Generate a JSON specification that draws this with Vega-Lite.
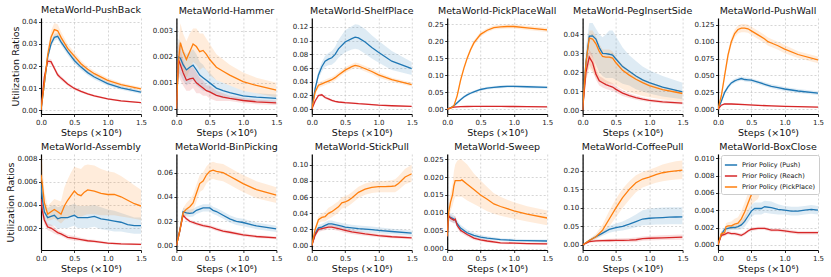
{
"$schema":"https://vega.github.io/schema/vega-lite/v6.json",
"padding":{"left":5,"top":5,"right":5,"bottom":5},
"background":"white",
"columns":6,
"spacing":{"row":40,"column":35.4},
"bounds":"flush",
"resolve":{"scale":{"color":"independent","fill":"independent","y":"independent"}},
"config":{
 "view":{"stroke":null},
 "font":"DejaVu Sans",
 "axis":{"labelFont":"DejaVu Sans","labelFontSize":7,"labelColor":"#222","titleFont":"DejaVu Sans","titleFontSize":9.5,"titleFontWeight":"normal","titleColor":"#111","domainColor":"#000","domainWidth":1.2,"ticks":true,"tickSize":2.5,"tickColor":"#000","tickWidth":0.8,"labelPadding":1.5,"gridColor":"#bbbbbb","gridDash":[2,2],"gridWidth":0.6,"titlePadding":2},
 "axisY":{"titlePadding":1},
 "axisX":{"labelFlush":false},
 "title":{"font":"DejaVu Sans","fontSize":9.5,"fontWeight":"normal","offset":3,"color":"#111"}
},
"data":{"values":[
{"p":"PB","s":"Push","x":0,"y":0,"l":0,"h":0},
{"p":"PB","s":"Push","x":0.05,"y":0.012,"l":0.0105,"h":0.0135},
{"p":"PB","s":"Push","x":0.1,"y":0.024,"l":0.0225,"h":0.0255},
{"p":"PB","s":"Push","x":0.15,"y":0.03,"l":0.0285,"h":0.0315},
{"p":"PB","s":"Push","x":0.2,"y":0.033,"l":0.0315,"h":0.0345},
{"p":"PB","s":"Push","x":0.25,"y":0.0335,"l":0.032,"h":0.035},
{"p":"PB","s":"Push","x":0.3,"y":0.031,"l":0.0295,"h":0.0325},
{"p":"PB","s":"Push","x":0.4,"y":0.0265,"l":0.025,"h":0.028},
{"p":"PB","s":"Push","x":0.5,"y":0.0225,"l":0.021,"h":0.024},
{"p":"PB","s":"Push","x":0.6,"y":0.0195,"l":0.0182,"h":0.0208},
{"p":"PB","s":"Push","x":0.7,"y":0.017,"l":0.0158,"h":0.0182},
{"p":"PB","s":"Push","x":0.8,"y":0.015,"l":0.0139,"h":0.0161},
{"p":"PB","s":"Push","x":1.0,"y":0.012,"l":0.011,"h":0.013},
{"p":"PB","s":"Push","x":1.2,"y":0.0101,"l":0.0092,"h":0.011},
{"p":"PB","s":"Push","x":1.5,"y":0.0081,"l":0.0073,"h":0.0089},
{"p":"PB","s":"Reach","x":0,"y":0,"l":0,"h":0},
{"p":"PB","s":"Reach","x":0.05,"y":0.015,"l":0.014,"h":0.016},
{"p":"PB","s":"Reach","x":0.1,"y":0.0222,"l":0.021,"h":0.0234},
{"p":"PB","s":"Reach","x":0.15,"y":0.022,"l":0.0208,"h":0.0232},
{"p":"PB","s":"Reach","x":0.2,"y":0.019,"l":0.018,"h":0.02},
{"p":"PB","s":"Reach","x":0.25,"y":0.016,"l":0.015,"h":0.017},
{"p":"PB","s":"Reach","x":0.3,"y":0.0145,"l":0.0135,"h":0.0155},
{"p":"PB","s":"Reach","x":0.4,"y":0.0118,"l":0.011,"h":0.0126},
{"p":"PB","s":"Reach","x":0.5,"y":0.0098,"l":0.0091,"h":0.0105},
{"p":"PB","s":"Reach","x":0.6,"y":0.0085,"l":0.0079,"h":0.0091},
{"p":"PB","s":"Reach","x":0.7,"y":0.0073,"l":0.0068,"h":0.0078},
{"p":"PB","s":"Reach","x":0.8,"y":0.0064,"l":0.0059,"h":0.0069},
{"p":"PB","s":"Reach","x":1.0,"y":0.0051,"l":0.0047,"h":0.0055},
{"p":"PB","s":"Reach","x":1.2,"y":0.0042,"l":0.0038,"h":0.0046},
{"p":"PB","s":"Reach","x":1.5,"y":0.0034,"l":0.0031,"h":0.0037},
{"p":"PB","s":"PickPlace","x":0,"y":0,"l":0,"h":0},
{"p":"PB","s":"PickPlace","x":0.05,"y":0.012,"l":0.01,"h":0.014},
{"p":"PB","s":"PickPlace","x":0.1,"y":0.025,"l":0.022,"h":0.028},
{"p":"PB","s":"PickPlace","x":0.15,"y":0.033,"l":0.03,"h":0.036},
{"p":"PB","s":"PickPlace","x":0.2,"y":0.0365,"l":0.0335,"h":0.0395},
{"p":"PB","s":"PickPlace","x":0.25,"y":0.036,"l":0.033,"h":0.039},
{"p":"PB","s":"PickPlace","x":0.3,"y":0.033,"l":0.0305,"h":0.0355},
{"p":"PB","s":"PickPlace","x":0.4,"y":0.028,"l":0.026,"h":0.03},
{"p":"PB","s":"PickPlace","x":0.5,"y":0.0245,"l":0.0228,"h":0.0262},
{"p":"PB","s":"PickPlace","x":0.6,"y":0.021,"l":0.0195,"h":0.0225},
{"p":"PB","s":"PickPlace","x":0.7,"y":0.0185,"l":0.0172,"h":0.0198},
{"p":"PB","s":"PickPlace","x":0.8,"y":0.0165,"l":0.0153,"h":0.0177},
{"p":"PB","s":"PickPlace","x":1.0,"y":0.0135,"l":0.0125,"h":0.0145},
{"p":"PB","s":"PickPlace","x":1.2,"y":0.0115,"l":0.0106,"h":0.0124},
{"p":"PB","s":"PickPlace","x":1.5,"y":0.0096,"l":0.0088,"h":0.0104},

{"p":"HM","s":"Push","x":0,"y":0,"l":0,"h":0},
{"p":"HM","s":"Push","x":0.03,"y":0.002,"l":0.0014,"h":0.0027},
{"p":"HM","s":"Push","x":0.06,"y":0.00195,"l":0.0013,"h":0.0026},
{"p":"HM","s":"Push","x":0.1,"y":0.0017,"l":0.0011,"h":0.0023},
{"p":"HM","s":"Push","x":0.15,"y":0.0015,"l":0.0009,"h":0.0021},
{"p":"HM","s":"Push","x":0.2,"y":0.0016,"l":0.001,"h":0.0022},
{"p":"HM","s":"Push","x":0.25,"y":0.00168,"l":0.0011,"h":0.0023},
{"p":"HM","s":"Push","x":0.3,"y":0.0015,"l":0.0009,"h":0.0021},
{"p":"HM","s":"Push","x":0.35,"y":0.0013,"l":0.0008,"h":0.0018},
{"p":"HM","s":"Push","x":0.4,"y":0.0012,"l":0.0007,"h":0.0017},
{"p":"HM","s":"Push","x":0.45,"y":0.0011,"l":0.0007,"h":0.0015},
{"p":"HM","s":"Push","x":0.5,"y":0.001,"l":0.0006,"h":0.0014},
{"p":"HM","s":"Push","x":0.6,"y":0.0008,"l":0.0005,"h":0.0011},
{"p":"HM","s":"Push","x":0.7,"y":0.0007,"l":0.0004,"h":0.001},
{"p":"HM","s":"Push","x":0.8,"y":0.00062,"l":0.0004,"h":0.0009},
{"p":"HM","s":"Push","x":1.0,"y":0.0005,"l":0.0003,"h":0.0007},
{"p":"HM","s":"Push","x":1.2,"y":0.00045,"l":0.0003,"h":0.0006},
{"p":"HM","s":"Push","x":1.5,"y":0.0004,"l":0.00025,"h":0.00055},
{"p":"HM","s":"Reach","x":0,"y":0,"l":0,"h":0},
{"p":"HM","s":"Reach","x":0.03,"y":0.0019,"l":0.0013,"h":0.0025},
{"p":"HM","s":"Reach","x":0.06,"y":0.0017,"l":0.0011,"h":0.0023},
{"p":"HM","s":"Reach","x":0.1,"y":0.0014,"l":0.0009,"h":0.0019},
{"p":"HM","s":"Reach","x":0.15,"y":0.0011,"l":0.0007,"h":0.0015},
{"p":"HM","s":"Reach","x":0.2,"y":0.00115,"l":0.0007,"h":0.0016},
{"p":"HM","s":"Reach","x":0.25,"y":0.00118,"l":0.0008,"h":0.0016},
{"p":"HM","s":"Reach","x":0.3,"y":0.001,"l":0.0006,"h":0.0014},
{"p":"HM","s":"Reach","x":0.35,"y":0.0009,"l":0.0006,"h":0.0012},
{"p":"HM","s":"Reach","x":0.4,"y":0.0008,"l":0.0005,"h":0.0011},
{"p":"HM","s":"Reach","x":0.45,"y":0.0007,"l":0.0005,"h":0.0009},
{"p":"HM","s":"Reach","x":0.5,"y":0.00065,"l":0.0004,"h":0.0009},
{"p":"HM","s":"Reach","x":0.6,"y":0.00052,"l":0.0003,"h":0.0007},
{"p":"HM","s":"Reach","x":0.7,"y":0.00045,"l":0.0003,"h":0.0006},
{"p":"HM","s":"Reach","x":0.8,"y":0.0004,"l":0.0003,"h":0.0005},
{"p":"HM","s":"Reach","x":1.0,"y":0.00032,"l":0.00022,"h":0.00042},
{"p":"HM","s":"Reach","x":1.2,"y":0.00027,"l":0.00018,"h":0.00036},
{"p":"HM","s":"Reach","x":1.5,"y":0.00023,"l":0.00015,"h":0.00031},
{"p":"HM","s":"PickPlace","x":0,"y":0,"l":0,"h":0},
{"p":"HM","s":"PickPlace","x":0.03,"y":0.0018,"l":0.0011,"h":0.0025},
{"p":"HM","s":"PickPlace","x":0.06,"y":0.00255,"l":0.0018,"h":0.0033},
{"p":"HM","s":"PickPlace","x":0.1,"y":0.0022,"l":0.0015,"h":0.0029},
{"p":"HM","s":"PickPlace","x":0.15,"y":0.0019,"l":0.0012,"h":0.0026},
{"p":"HM","s":"PickPlace","x":0.2,"y":0.0022,"l":0.0015,"h":0.0029},
{"p":"HM","s":"PickPlace","x":0.25,"y":0.0025,"l":0.0018,"h":0.0031},
{"p":"HM","s":"PickPlace","x":0.3,"y":0.0024,"l":0.0017,"h":0.0031},
{"p":"HM","s":"PickPlace","x":0.35,"y":0.0022,"l":0.0015,"h":0.0029},
{"p":"HM","s":"PickPlace","x":0.4,"y":0.00225,"l":0.0016,"h":0.0029},
{"p":"HM","s":"PickPlace","x":0.45,"y":0.0021,"l":0.0015,"h":0.0027},
{"p":"HM","s":"PickPlace","x":0.5,"y":0.0019,"l":0.0013,"h":0.0025},
{"p":"HM","s":"PickPlace","x":0.6,"y":0.0016,"l":0.0011,"h":0.0021},
{"p":"HM","s":"PickPlace","x":0.7,"y":0.00145,"l":0.001,"h":0.0019},
{"p":"HM","s":"PickPlace","x":0.8,"y":0.0013,"l":0.0009,"h":0.0017},
{"p":"HM","s":"PickPlace","x":1.0,"y":0.00105,"l":0.0007,"h":0.0014},
{"p":"HM","s":"PickPlace","x":1.2,"y":0.0009,"l":0.0006,"h":0.0012},
{"p":"HM","s":"PickPlace","x":1.5,"y":0.00072,"l":0.00045,"h":0.001},

{"p":"SP","s":"Push","x":0,"y":0,"l":0,"h":0},
{"p":"SP","s":"Push","x":0.05,"y":0.03,"l":0.025,"h":0.035},
{"p":"SP","s":"Push","x":0.1,"y":0.05,"l":0.044,"h":0.056},
{"p":"SP","s":"Push","x":0.15,"y":0.062,"l":0.055,"h":0.069},
{"p":"SP","s":"Push","x":0.2,"y":0.07,"l":0.062,"h":0.078},
{"p":"SP","s":"Push","x":0.25,"y":0.073,"l":0.064,"h":0.082},
{"p":"SP","s":"Push","x":0.3,"y":0.075,"l":0.065,"h":0.085},
{"p":"SP","s":"Push","x":0.35,"y":0.08,"l":0.069,"h":0.091},
{"p":"SP","s":"Push","x":0.4,"y":0.088,"l":0.075,"h":0.101},
{"p":"SP","s":"Push","x":0.5,"y":0.098,"l":0.083,"h":0.115},
{"p":"SP","s":"Push","x":0.6,"y":0.103,"l":0.087,"h":0.121},
{"p":"SP","s":"Push","x":0.65,"y":0.105,"l":0.088,"h":0.124},
{"p":"SP","s":"Push","x":0.7,"y":0.104,"l":0.087,"h":0.123},
{"p":"SP","s":"Push","x":0.8,"y":0.098,"l":0.081,"h":0.117},
{"p":"SP","s":"Push","x":0.9,"y":0.09,"l":0.074,"h":0.108},
{"p":"SP","s":"Push","x":1.0,"y":0.083,"l":0.068,"h":0.1},
{"p":"SP","s":"Push","x":1.2,"y":0.07,"l":0.057,"h":0.085},
{"p":"SP","s":"Push","x":1.5,"y":0.059,"l":0.05,"h":0.069},
{"p":"SP","s":"Reach","x":0,"y":0,"l":0,"h":0},
{"p":"SP","s":"Reach","x":0.05,"y":0.012,"l":0.01,"h":0.014},
{"p":"SP","s":"Reach","x":0.1,"y":0.02,"l":0.018,"h":0.022},
{"p":"SP","s":"Reach","x":0.15,"y":0.021,"l":0.019,"h":0.023},
{"p":"SP","s":"Reach","x":0.2,"y":0.017,"l":0.015,"h":0.019},
{"p":"SP","s":"Reach","x":0.25,"y":0.015,"l":0.013,"h":0.017},
{"p":"SP","s":"Reach","x":0.3,"y":0.013,"l":0.011,"h":0.015},
{"p":"SP","s":"Reach","x":0.35,"y":0.0115,"l":0.0098,"h":0.0132},
{"p":"SP","s":"Reach","x":0.4,"y":0.0105,"l":0.0089,"h":0.0121},
{"p":"SP","s":"Reach","x":0.5,"y":0.0095,"l":0.0081,"h":0.0109},
{"p":"SP","s":"Reach","x":0.6,"y":0.0088,"l":0.0075,"h":0.0101},
{"p":"SP","s":"Reach","x":0.7,"y":0.008,"l":0.0068,"h":0.0092},
{"p":"SP","s":"Reach","x":0.8,"y":0.0075,"l":0.0064,"h":0.0086},
{"p":"SP","s":"Reach","x":0.9,"y":0.0068,"l":0.0058,"h":0.0078},
{"p":"SP","s":"Reach","x":1.0,"y":0.006,"l":0.0051,"h":0.0069},
{"p":"SP","s":"Reach","x":1.2,"y":0.005,"l":0.0042,"h":0.0058},
{"p":"SP","s":"Reach","x":1.5,"y":0.004,"l":0.0033,"h":0.0047},
{"p":"SP","s":"PickPlace","x":0,"y":0,"l":0,"h":0},
{"p":"SP","s":"PickPlace","x":0.05,"y":0.025,"l":0.021,"h":0.029},
{"p":"SP","s":"PickPlace","x":0.1,"y":0.035,"l":0.031,"h":0.039},
{"p":"SP","s":"PickPlace","x":0.15,"y":0.037,"l":0.033,"h":0.041},
{"p":"SP","s":"PickPlace","x":0.2,"y":0.039,"l":0.035,"h":0.043},
{"p":"SP","s":"PickPlace","x":0.25,"y":0.041,"l":0.037,"h":0.045},
{"p":"SP","s":"PickPlace","x":0.3,"y":0.043,"l":0.039,"h":0.047},
{"p":"SP","s":"PickPlace","x":0.35,"y":0.046,"l":0.042,"h":0.05},
{"p":"SP","s":"PickPlace","x":0.4,"y":0.05,"l":0.046,"h":0.054},
{"p":"SP","s":"PickPlace","x":0.5,"y":0.057,"l":0.053,"h":0.061},
{"p":"SP","s":"PickPlace","x":0.6,"y":0.062,"l":0.058,"h":0.066},
{"p":"SP","s":"PickPlace","x":0.65,"y":0.064,"l":0.06,"h":0.068},
{"p":"SP","s":"PickPlace","x":0.7,"y":0.063,"l":0.059,"h":0.067},
{"p":"SP","s":"PickPlace","x":0.8,"y":0.059,"l":0.055,"h":0.063},
{"p":"SP","s":"PickPlace","x":0.9,"y":0.055,"l":0.051,"h":0.059},
{"p":"SP","s":"PickPlace","x":1.0,"y":0.05,"l":0.046,"h":0.054},
{"p":"SP","s":"PickPlace","x":1.2,"y":0.043,"l":0.04,"h":0.046},
{"p":"SP","s":"PickPlace","x":1.5,"y":0.036,"l":0.033,"h":0.039},

{"p":"PW","s":"Push","x":0,"y":0,"l":0,"h":0},
{"p":"PW","s":"Push","x":0.05,"y":0.004,"l":0.002,"h":0.006},
{"p":"PW","s":"Push","x":0.1,"y":0.01,"l":0.007,"h":0.013},
{"p":"PW","s":"Push","x":0.15,"y":0.019,"l":0.015,"h":0.023},
{"p":"PW","s":"Push","x":0.2,"y":0.028,"l":0.024,"h":0.032},
{"p":"PW","s":"Push","x":0.25,"y":0.036,"l":0.032,"h":0.04},
{"p":"PW","s":"Push","x":0.3,"y":0.042,"l":0.038,"h":0.046},
{"p":"PW","s":"Push","x":0.35,"y":0.047,"l":0.043,"h":0.051},
{"p":"PW","s":"Push","x":0.4,"y":0.051,"l":0.047,"h":0.055},
{"p":"PW","s":"Push","x":0.5,"y":0.058,"l":0.054,"h":0.062},
{"p":"PW","s":"Push","x":0.6,"y":0.062,"l":0.058,"h":0.066},
{"p":"PW","s":"Push","x":0.7,"y":0.064,"l":0.06,"h":0.068},
{"p":"PW","s":"Push","x":0.8,"y":0.066,"l":0.062,"h":0.07},
{"p":"PW","s":"Push","x":0.9,"y":0.067,"l":0.063,"h":0.071},
{"p":"PW","s":"Push","x":1.0,"y":0.067,"l":0.063,"h":0.071},
{"p":"PW","s":"Push","x":1.2,"y":0.066,"l":0.062,"h":0.07},
{"p":"PW","s":"Push","x":1.5,"y":0.064,"l":0.06,"h":0.068},
{"p":"PW","s":"Reach","x":0,"y":0,"l":0,"h":0},
{"p":"PW","s":"Reach","x":0.05,"y":0.004,"l":0.003,"h":0.005},
{"p":"PW","s":"Reach","x":0.1,"y":0.006,"l":0.0045,"h":0.0075},
{"p":"PW","s":"Reach","x":0.15,"y":0.007,"l":0.0055,"h":0.0085},
{"p":"PW","s":"Reach","x":0.2,"y":0.0075,"l":0.006,"h":0.009},
{"p":"PW","s":"Reach","x":0.3,"y":0.008,"l":0.0065,"h":0.0095},
{"p":"PW","s":"Reach","x":0.4,"y":0.0083,"l":0.0068,"h":0.0098},
{"p":"PW","s":"Reach","x":0.6,"y":0.0085,"l":0.007,"h":0.01},
{"p":"PW","s":"Reach","x":0.8,"y":0.0082,"l":0.0067,"h":0.0097},
{"p":"PW","s":"Reach","x":1.0,"y":0.008,"l":0.0065,"h":0.0095},
{"p":"PW","s":"Reach","x":1.2,"y":0.0075,"l":0.006,"h":0.009},
{"p":"PW","s":"Reach","x":1.5,"y":0.007,"l":0.0055,"h":0.0085},
{"p":"PW","s":"PickPlace","x":0,"y":0,"l":0,"h":0},
{"p":"PW","s":"PickPlace","x":0.05,"y":0.003,"l":0.001,"h":0.005},
{"p":"PW","s":"PickPlace","x":0.1,"y":0.01,"l":0.006,"h":0.014},
{"p":"PW","s":"PickPlace","x":0.15,"y":0.04,"l":0.033,"h":0.047},
{"p":"PW","s":"PickPlace","x":0.2,"y":0.085,"l":0.077,"h":0.093},
{"p":"PW","s":"PickPlace","x":0.25,"y":0.12,"l":0.112,"h":0.128},
{"p":"PW","s":"PickPlace","x":0.3,"y":0.15,"l":0.143,"h":0.157},
{"p":"PW","s":"PickPlace","x":0.35,"y":0.175,"l":0.168,"h":0.182},
{"p":"PW","s":"PickPlace","x":0.4,"y":0.195,"l":0.188,"h":0.202},
{"p":"PW","s":"PickPlace","x":0.5,"y":0.22,"l":0.213,"h":0.227},
{"p":"PW","s":"PickPlace","x":0.6,"y":0.232,"l":0.226,"h":0.238},
{"p":"PW","s":"PickPlace","x":0.7,"y":0.24,"l":0.234,"h":0.246},
{"p":"PW","s":"PickPlace","x":0.8,"y":0.242,"l":0.236,"h":0.248},
{"p":"PW","s":"PickPlace","x":0.9,"y":0.243,"l":0.237,"h":0.249},
{"p":"PW","s":"PickPlace","x":1.0,"y":0.243,"l":0.237,"h":0.249},
{"p":"PW","s":"PickPlace","x":1.2,"y":0.239,"l":0.233,"h":0.245},
{"p":"PW","s":"PickPlace","x":1.5,"y":0.233,"l":0.227,"h":0.239},

{"p":"PI","s":"Push","x":0,"y":0,"l":0,"h":0},
{"p":"PI","s":"Push","x":0.05,"y":0.025,"l":0.018,"h":0.033},
{"p":"PI","s":"Push","x":0.1,"y":0.039,"l":0.03,"h":0.046},
{"p":"PI","s":"Push","x":0.15,"y":0.0392,"l":0.028,"h":0.046},
{"p":"PI","s":"Push","x":0.2,"y":0.0375,"l":0.024,"h":0.043},
{"p":"PI","s":"Push","x":0.25,"y":0.033,"l":0.02,"h":0.04},
{"p":"PI","s":"Push","x":0.3,"y":0.03,"l":0.018,"h":0.0385},
{"p":"PI","s":"Push","x":0.35,"y":0.0298,"l":0.017,"h":0.04},
{"p":"PI","s":"Push","x":0.4,"y":0.0295,"l":0.017,"h":0.042},
{"p":"PI","s":"Push","x":0.45,"y":0.029,"l":0.017,"h":0.042},
{"p":"PI","s":"Push","x":0.5,"y":0.027,"l":0.016,"h":0.039},
{"p":"PI","s":"Push","x":0.6,"y":0.023,"l":0.014,"h":0.033},
{"p":"PI","s":"Push","x":0.7,"y":0.0205,"l":0.013,"h":0.029},
{"p":"PI","s":"Push","x":0.8,"y":0.018,"l":0.011,"h":0.026},
{"p":"PI","s":"Push","x":0.9,"y":0.016,"l":0.0098,"h":0.023},
{"p":"PI","s":"Push","x":1.0,"y":0.0145,"l":0.0088,"h":0.021},
{"p":"PI","s":"Push","x":1.2,"y":0.0122,"l":0.0072,"h":0.018},
{"p":"PI","s":"Push","x":1.5,"y":0.0097,"l":0.0058,"h":0.0145},
{"p":"PI","s":"Reach","x":0,"y":0,"l":0,"h":0},
{"p":"PI","s":"Reach","x":0.05,"y":0.02,"l":0.016,"h":0.024},
{"p":"PI","s":"Reach","x":0.1,"y":0.028,"l":0.024,"h":0.032},
{"p":"PI","s":"Reach","x":0.15,"y":0.025,"l":0.021,"h":0.029},
{"p":"PI","s":"Reach","x":0.2,"y":0.019,"l":0.016,"h":0.022},
{"p":"PI","s":"Reach","x":0.25,"y":0.0155,"l":0.013,"h":0.018},
{"p":"PI","s":"Reach","x":0.3,"y":0.0145,"l":0.012,"h":0.017},
{"p":"PI","s":"Reach","x":0.35,"y":0.0135,"l":0.0112,"h":0.0158},
{"p":"PI","s":"Reach","x":0.4,"y":0.0128,"l":0.0106,"h":0.015},
{"p":"PI","s":"Reach","x":0.45,"y":0.0122,"l":0.0101,"h":0.0143},
{"p":"PI","s":"Reach","x":0.5,"y":0.011,"l":0.0092,"h":0.0128},
{"p":"PI","s":"Reach","x":0.6,"y":0.009,"l":0.0075,"h":0.0105},
{"p":"PI","s":"Reach","x":0.7,"y":0.0077,"l":0.0064,"h":0.009},
{"p":"PI","s":"Reach","x":0.8,"y":0.0066,"l":0.0055,"h":0.0077},
{"p":"PI","s":"Reach","x":0.9,"y":0.0058,"l":0.0048,"h":0.0068},
{"p":"PI","s":"Reach","x":1.0,"y":0.0052,"l":0.0043,"h":0.0061},
{"p":"PI","s":"Reach","x":1.2,"y":0.0044,"l":0.0036,"h":0.0052},
{"p":"PI","s":"Reach","x":1.5,"y":0.0037,"l":0.003,"h":0.0044},
{"p":"PI","s":"PickPlace","x":0,"y":0,"l":0,"h":0},
{"p":"PI","s":"PickPlace","x":0.05,"y":0.025,"l":0.015,"h":0.029},
{"p":"PI","s":"PickPlace","x":0.1,"y":0.038,"l":0.022,"h":0.042},
{"p":"PI","s":"PickPlace","x":0.15,"y":0.0375,"l":0.02,"h":0.042},
{"p":"PI","s":"PickPlace","x":0.2,"y":0.035,"l":0.017,"h":0.039},
{"p":"PI","s":"PickPlace","x":0.25,"y":0.031,"l":0.015,"h":0.035},
{"p":"PI","s":"PickPlace","x":0.3,"y":0.0283,"l":0.014,"h":0.032},
{"p":"PI","s":"PickPlace","x":0.35,"y":0.028,"l":0.014,"h":0.032},
{"p":"PI","s":"PickPlace","x":0.4,"y":0.028,"l":0.014,"h":0.032},
{"p":"PI","s":"PickPlace","x":0.45,"y":0.0275,"l":0.014,"h":0.031},
{"p":"PI","s":"PickPlace","x":0.5,"y":0.025,"l":0.013,"h":0.028},
{"p":"PI","s":"PickPlace","x":0.6,"y":0.021,"l":0.011,"h":0.024},
{"p":"PI","s":"PickPlace","x":0.7,"y":0.0185,"l":0.0095,"h":0.021},
{"p":"PI","s":"PickPlace","x":0.8,"y":0.0163,"l":0.0085,"h":0.0185},
{"p":"PI","s":"PickPlace","x":0.9,"y":0.0145,"l":0.0075,"h":0.0165},
{"p":"PI","s":"PickPlace","x":1.0,"y":0.013,"l":0.0068,"h":0.015},
{"p":"PI","s":"PickPlace","x":1.2,"y":0.0109,"l":0.0057,"h":0.0125},
{"p":"PI","s":"PickPlace","x":1.5,"y":0.0088,"l":0.0046,"h":0.0101},

{"p":"PL","s":"Push","x":0,"y":0,"l":0,"h":0},
{"p":"PL","s":"Push","x":0.05,"y":0.012,"l":0.01,"h":0.014},
{"p":"PL","s":"Push","x":0.1,"y":0.025,"l":0.022,"h":0.028},
{"p":"PL","s":"Push","x":0.15,"y":0.033,"l":0.03,"h":0.036},
{"p":"PL","s":"Push","x":0.2,"y":0.039,"l":0.036,"h":0.042},
{"p":"PL","s":"Push","x":0.25,"y":0.042,"l":0.039,"h":0.045},
{"p":"PL","s":"Push","x":0.3,"y":0.044,"l":0.041,"h":0.047},
{"p":"PL","s":"Push","x":0.35,"y":0.0455,"l":0.0425,"h":0.0485},
{"p":"PL","s":"Push","x":0.4,"y":0.044,"l":0.041,"h":0.047},
{"p":"PL","s":"Push","x":0.45,"y":0.0435,"l":0.0405,"h":0.0465},
{"p":"PL","s":"Push","x":0.5,"y":0.043,"l":0.04,"h":0.046},
{"p":"PL","s":"Push","x":0.6,"y":0.04,"l":0.037,"h":0.043},
{"p":"PL","s":"Push","x":0.7,"y":0.037,"l":0.034,"h":0.04},
{"p":"PL","s":"Push","x":0.75,"y":0.0355,"l":0.0325,"h":0.0385},
{"p":"PL","s":"Push","x":0.8,"y":0.034,"l":0.031,"h":0.037},
{"p":"PL","s":"Push","x":0.9,"y":0.032,"l":0.029,"h":0.035},
{"p":"PL","s":"Push","x":1.0,"y":0.03,"l":0.027,"h":0.033},
{"p":"PL","s":"Push","x":1.2,"y":0.027,"l":0.024,"h":0.03},
{"p":"PL","s":"Push","x":1.5,"y":0.0238,"l":0.021,"h":0.0266},
{"p":"PL","s":"Reach","x":0,"y":0,"l":0,"h":0},
{"p":"PL","s":"Reach","x":0.05,"y":0.006,"l":0.0048,"h":0.0072},
{"p":"PL","s":"Reach","x":0.1,"y":0.008,"l":0.0068,"h":0.0092},
{"p":"PL","s":"Reach","x":0.2,"y":0.0078,"l":0.0066,"h":0.009},
{"p":"PL","s":"Reach","x":0.4,"y":0.007,"l":0.0058,"h":0.0082},
{"p":"PL","s":"Reach","x":0.6,"y":0.0058,"l":0.0047,"h":0.0069},
{"p":"PL","s":"Reach","x":0.8,"y":0.005,"l":0.004,"h":0.006},
{"p":"PL","s":"Reach","x":1.0,"y":0.0043,"l":0.0034,"h":0.0052},
{"p":"PL","s":"Reach","x":1.2,"y":0.0038,"l":0.003,"h":0.0046},
{"p":"PL","s":"Reach","x":1.5,"y":0.0033,"l":0.0026,"h":0.004},
{"p":"PL","s":"PickPlace","x":0,"y":0,"l":0,"h":0},
{"p":"PL","s":"PickPlace","x":0.05,"y":0.02,"l":0.016,"h":0.024},
{"p":"PL","s":"PickPlace","x":0.1,"y":0.05,"l":0.045,"h":0.055},
{"p":"PL","s":"PickPlace","x":0.15,"y":0.08,"l":0.074,"h":0.086},
{"p":"PL","s":"PickPlace","x":0.2,"y":0.1,"l":0.094,"h":0.106},
{"p":"PL","s":"PickPlace","x":0.25,"y":0.112,"l":0.106,"h":0.118},
{"p":"PL","s":"PickPlace","x":0.3,"y":0.118,"l":0.112,"h":0.124},
{"p":"PL","s":"PickPlace","x":0.35,"y":0.12,"l":0.114,"h":0.126},
{"p":"PL","s":"PickPlace","x":0.4,"y":0.12,"l":0.114,"h":0.126},
{"p":"PL","s":"PickPlace","x":0.45,"y":0.119,"l":0.113,"h":0.125},
{"p":"PL","s":"PickPlace","x":0.5,"y":0.116,"l":0.11,"h":0.122},
{"p":"PL","s":"PickPlace","x":0.6,"y":0.11,"l":0.104,"h":0.116},
{"p":"PL","s":"PickPlace","x":0.7,"y":0.104,"l":0.098,"h":0.11},
{"p":"PL","s":"PickPlace","x":0.75,"y":0.1,"l":0.094,"h":0.106},
{"p":"PL","s":"PickPlace","x":0.8,"y":0.098,"l":0.092,"h":0.104},
{"p":"PL","s":"PickPlace","x":0.9,"y":0.094,"l":0.088,"h":0.1},
{"p":"PL","s":"PickPlace","x":1.0,"y":0.089,"l":0.083,"h":0.095},
{"p":"PL","s":"PickPlace","x":1.2,"y":0.081,"l":0.076,"h":0.086},
{"p":"PL","s":"PickPlace","x":1.5,"y":0.073,"l":0.068,"h":0.078},

{"p":"AS","s":"Push","x":0,"y":0.0058,"l":0.0045,"h":0.0075},
{"p":"AS","s":"Push","x":0.02,"y":0.0045,"l":0.0036,"h":0.0056},
{"p":"AS","s":"Push","x":0.05,"y":0.0034,"l":0.0027,"h":0.0042},
{"p":"AS","s":"Push","x":0.1,"y":0.0029,"l":0.0022,"h":0.0037},
{"p":"AS","s":"Push","x":0.15,"y":0.003,"l":0.0022,"h":0.0039},
{"p":"AS","s":"Push","x":0.2,"y":0.0031,"l":0.0022,"h":0.004},
{"p":"AS","s":"Push","x":0.25,"y":0.0028,"l":0.0019,"h":0.0038},
{"p":"AS","s":"Push","x":0.3,"y":0.0029,"l":0.002,"h":0.0039},
{"p":"AS","s":"Push","x":0.35,"y":0.0029,"l":0.002,"h":0.0039},
{"p":"AS","s":"Push","x":0.4,"y":0.0029,"l":0.002,"h":0.0039},
{"p":"AS","s":"Push","x":0.45,"y":0.003,"l":0.0021,"h":0.004},
{"p":"AS","s":"Push","x":0.5,"y":0.0031,"l":0.0022,"h":0.0041},
{"p":"AS","s":"Push","x":0.55,"y":0.0029,"l":0.002,"h":0.0039},
{"p":"AS","s":"Push","x":0.6,"y":0.0029,"l":0.002,"h":0.0039},
{"p":"AS","s":"Push","x":0.65,"y":0.0029,"l":0.002,"h":0.0039},
{"p":"AS","s":"Push","x":0.7,"y":0.0029,"l":0.002,"h":0.0039},
{"p":"AS","s":"Push","x":0.8,"y":0.003,"l":0.0021,"h":0.004},
{"p":"AS","s":"Push","x":0.9,"y":0.0028,"l":0.0019,"h":0.0038},
{"p":"AS","s":"Push","x":1.0,"y":0.0027,"l":0.0018,"h":0.0036},
{"p":"AS","s":"Push","x":1.1,"y":0.0026,"l":0.0017,"h":0.0035},
{"p":"AS","s":"Push","x":1.2,"y":0.0025,"l":0.0017,"h":0.0033},
{"p":"AS","s":"Push","x":1.3,"y":0.0023,"l":0.0016,"h":0.0031},
{"p":"AS","s":"Push","x":1.4,"y":0.0022,"l":0.0015,"h":0.0029},
{"p":"AS","s":"Push","x":1.5,"y":0.0022,"l":0.0015,"h":0.0029},
{"p":"AS","s":"Reach","x":0,"y":0.0045,"l":0.0038,"h":0.0052},
{"p":"AS","s":"Reach","x":0.02,"y":0.0035,"l":0.003,"h":0.004},
{"p":"AS","s":"Reach","x":0.05,"y":0.0027,"l":0.0023,"h":0.0031},
{"p":"AS","s":"Reach","x":0.1,"y":0.0021,"l":0.0018,"h":0.0024},
{"p":"AS","s":"Reach","x":0.15,"y":0.002,"l":0.0017,"h":0.0023},
{"p":"AS","s":"Reach","x":0.2,"y":0.0018,"l":0.0015,"h":0.0021},
{"p":"AS","s":"Reach","x":0.25,"y":0.0016,"l":0.0014,"h":0.0018},
{"p":"AS","s":"Reach","x":0.3,"y":0.0015,"l":0.0013,"h":0.0017},
{"p":"AS","s":"Reach","x":0.4,"y":0.0012,"l":0.001,"h":0.0014},
{"p":"AS","s":"Reach","x":0.5,"y":0.0011,"l":0.0009,"h":0.0013},
{"p":"AS","s":"Reach","x":0.6,"y":0.001,"l":0.00085,"h":0.00115},
{"p":"AS","s":"Reach","x":0.7,"y":0.0009,"l":0.00076,"h":0.00104},
{"p":"AS","s":"Reach","x":0.8,"y":0.00085,"l":0.00072,"h":0.00098},
{"p":"AS","s":"Reach","x":1.0,"y":0.0007,"l":0.0006,"h":0.0008},
{"p":"AS","s":"Reach","x":1.2,"y":0.00063,"l":0.00054,"h":0.00072},
{"p":"AS","s":"Reach","x":1.5,"y":0.00058,"l":0.0005,"h":0.00066},
{"p":"AS","s":"PickPlace","x":0,"y":0.0066,"l":0.005,"h":0.0083},
{"p":"AS","s":"PickPlace","x":0.02,"y":0.0058,"l":0.0045,"h":0.0075},
{"p":"AS","s":"PickPlace","x":0.05,"y":0.0042,"l":0.0033,"h":0.0052},
{"p":"AS","s":"PickPlace","x":0.1,"y":0.0032,"l":0.0026,"h":0.0039},
{"p":"AS","s":"PickPlace","x":0.15,"y":0.0034,"l":0.0027,"h":0.0042},
{"p":"AS","s":"PickPlace","x":0.2,"y":0.0036,"l":0.0028,"h":0.0045},
{"p":"AS","s":"PickPlace","x":0.25,"y":0.0034,"l":0.0026,"h":0.0044},
{"p":"AS","s":"PickPlace","x":0.3,"y":0.0032,"l":0.0024,"h":0.0043},
{"p":"AS","s":"PickPlace","x":0.35,"y":0.0039,"l":0.0027,"h":0.0055},
{"p":"AS","s":"PickPlace","x":0.4,"y":0.0044,"l":0.0029,"h":0.0062},
{"p":"AS","s":"PickPlace","x":0.45,"y":0.0048,"l":0.003,"h":0.0068},
{"p":"AS","s":"PickPlace","x":0.5,"y":0.0052,"l":0.0032,"h":0.0073},
{"p":"AS","s":"PickPlace","x":0.55,"y":0.0049,"l":0.003,"h":0.0072},
{"p":"AS","s":"PickPlace","x":0.6,"y":0.0048,"l":0.003,"h":0.0071},
{"p":"AS","s":"PickPlace","x":0.65,"y":0.0051,"l":0.0031,"h":0.0074},
{"p":"AS","s":"PickPlace","x":0.7,"y":0.0053,"l":0.0032,"h":0.0075},
{"p":"AS","s":"PickPlace","x":0.8,"y":0.0052,"l":0.0032,"h":0.0074},
{"p":"AS","s":"PickPlace","x":0.9,"y":0.005,"l":0.0031,"h":0.0071},
{"p":"AS","s":"PickPlace","x":1.0,"y":0.0049,"l":0.0031,"h":0.0069},
{"p":"AS","s":"PickPlace","x":1.1,"y":0.0049,"l":0.0031,"h":0.0068},
{"p":"AS","s":"PickPlace","x":1.2,"y":0.0047,"l":0.003,"h":0.0065},
{"p":"AS","s":"PickPlace","x":1.3,"y":0.0044,"l":0.0029,"h":0.0061},
{"p":"AS","s":"PickPlace","x":1.4,"y":0.0041,"l":0.0028,"h":0.0057},
{"p":"AS","s":"PickPlace","x":1.5,"y":0.0039,"l":0.0027,"h":0.0053},

{"p":"BP","s":"Push","x":0,"y":0,"l":0,"h":0},
{"p":"BP","s":"Push","x":0.05,"y":0.012,"l":0.01,"h":0.014},
{"p":"BP","s":"Push","x":0.1,"y":0.028,"l":0.025,"h":0.031},
{"p":"BP","s":"Push","x":0.15,"y":0.027,"l":0.024,"h":0.03},
{"p":"BP","s":"Push","x":0.2,"y":0.0265,"l":0.0235,"h":0.0295},
{"p":"BP","s":"Push","x":0.25,"y":0.027,"l":0.024,"h":0.03},
{"p":"BP","s":"Push","x":0.3,"y":0.029,"l":0.026,"h":0.032},
{"p":"BP","s":"Push","x":0.35,"y":0.03,"l":0.027,"h":0.033},
{"p":"BP","s":"Push","x":0.4,"y":0.031,"l":0.028,"h":0.034},
{"p":"BP","s":"Push","x":0.45,"y":0.031,"l":0.028,"h":0.034},
{"p":"BP","s":"Push","x":0.5,"y":0.031,"l":0.028,"h":0.034},
{"p":"BP","s":"Push","x":0.55,"y":0.029,"l":0.026,"h":0.032},
{"p":"BP","s":"Push","x":0.6,"y":0.028,"l":0.025,"h":0.031},
{"p":"BP","s":"Push","x":0.7,"y":0.025,"l":0.022,"h":0.028},
{"p":"BP","s":"Push","x":0.8,"y":0.022,"l":0.019,"h":0.025},
{"p":"BP","s":"Push","x":0.9,"y":0.02,"l":0.017,"h":0.023},
{"p":"BP","s":"Push","x":1.0,"y":0.019,"l":0.016,"h":0.022},
{"p":"BP","s":"Push","x":1.2,"y":0.0162,"l":0.0135,"h":0.019},
{"p":"BP","s":"Push","x":1.5,"y":0.0138,"l":0.0112,"h":0.0164},
{"p":"BP","s":"Reach","x":0,"y":0,"l":0,"h":0},
{"p":"BP","s":"Reach","x":0.05,"y":0.012,"l":0.0105,"h":0.0135},
{"p":"BP","s":"Reach","x":0.1,"y":0.025,"l":0.0235,"h":0.0265},
{"p":"BP","s":"Reach","x":0.15,"y":0.022,"l":0.0205,"h":0.0235},
{"p":"BP","s":"Reach","x":0.2,"y":0.02,"l":0.0185,"h":0.0215},
{"p":"BP","s":"Reach","x":0.3,"y":0.018,"l":0.0165,"h":0.0195},
{"p":"BP","s":"Reach","x":0.4,"y":0.0165,"l":0.015,"h":0.018},
{"p":"BP","s":"Reach","x":0.5,"y":0.0155,"l":0.014,"h":0.017},
{"p":"BP","s":"Reach","x":0.6,"y":0.0135,"l":0.012,"h":0.015},
{"p":"BP","s":"Reach","x":0.7,"y":0.012,"l":0.0105,"h":0.0135},
{"p":"BP","s":"Reach","x":0.8,"y":0.011,"l":0.0095,"h":0.0125},
{"p":"BP","s":"Reach","x":1.0,"y":0.0088,"l":0.0075,"h":0.0101},
{"p":"BP","s":"Reach","x":1.2,"y":0.0075,"l":0.0063,"h":0.0087},
{"p":"BP","s":"Reach","x":1.5,"y":0.0064,"l":0.0053,"h":0.0075},
{"p":"BP","s":"PickPlace","x":0,"y":0,"l":0,"h":0},
{"p":"BP","s":"PickPlace","x":0.05,"y":0.012,"l":0.009,"h":0.015},
{"p":"BP","s":"PickPlace","x":0.1,"y":0.027,"l":0.023,"h":0.031},
{"p":"BP","s":"PickPlace","x":0.15,"y":0.03,"l":0.025,"h":0.035},
{"p":"BP","s":"PickPlace","x":0.2,"y":0.032,"l":0.026,"h":0.038},
{"p":"BP","s":"PickPlace","x":0.25,"y":0.035,"l":0.028,"h":0.042},
{"p":"BP","s":"PickPlace","x":0.3,"y":0.043,"l":0.036,"h":0.05},
{"p":"BP","s":"PickPlace","x":0.35,"y":0.051,"l":0.044,"h":0.058},
{"p":"BP","s":"PickPlace","x":0.4,"y":0.053,"l":0.046,"h":0.06},
{"p":"BP","s":"PickPlace","x":0.45,"y":0.058,"l":0.051,"h":0.065},
{"p":"BP","s":"PickPlace","x":0.5,"y":0.061,"l":0.054,"h":0.068},
{"p":"BP","s":"PickPlace","x":0.55,"y":0.062,"l":0.055,"h":0.069},
{"p":"BP","s":"PickPlace","x":0.6,"y":0.061,"l":0.054,"h":0.068},
{"p":"BP","s":"PickPlace","x":0.7,"y":0.06,"l":0.053,"h":0.067},
{"p":"BP","s":"PickPlace","x":0.8,"y":0.057,"l":0.05,"h":0.064},
{"p":"BP","s":"PickPlace","x":0.9,"y":0.054,"l":0.047,"h":0.061},
{"p":"BP","s":"PickPlace","x":1.0,"y":0.051,"l":0.044,"h":0.058},
{"p":"BP","s":"PickPlace","x":1.2,"y":0.046,"l":0.039,"h":0.053},
{"p":"BP","s":"PickPlace","x":1.5,"y":0.0415,"l":0.035,"h":0.048},

{"p":"ST","s":"Push","x":0,"y":0,"l":0,"h":0},
{"p":"ST","s":"Push","x":0.05,"y":0.015,"l":0.012,"h":0.018},
{"p":"ST","s":"Push","x":0.1,"y":0.022,"l":0.018,"h":0.026},
{"p":"ST","s":"Push","x":0.15,"y":0.023,"l":0.019,"h":0.027},
{"p":"ST","s":"Push","x":0.2,"y":0.025,"l":0.021,"h":0.029},
{"p":"ST","s":"Push","x":0.25,"y":0.027,"l":0.023,"h":0.031},
{"p":"ST","s":"Push","x":0.3,"y":0.027,"l":0.023,"h":0.031},
{"p":"ST","s":"Push","x":0.35,"y":0.026,"l":0.022,"h":0.03},
{"p":"ST","s":"Push","x":0.4,"y":0.025,"l":0.021,"h":0.029},
{"p":"ST","s":"Push","x":0.45,"y":0.024,"l":0.02,"h":0.028},
{"p":"ST","s":"Push","x":0.5,"y":0.023,"l":0.019,"h":0.027},
{"p":"ST","s":"Push","x":0.6,"y":0.022,"l":0.018,"h":0.026},
{"p":"ST","s":"Push","x":0.7,"y":0.021,"l":0.017,"h":0.025},
{"p":"ST","s":"Push","x":0.8,"y":0.0205,"l":0.0167,"h":0.0243},
{"p":"ST","s":"Push","x":0.9,"y":0.0198,"l":0.016,"h":0.0236},
{"p":"ST","s":"Push","x":1.0,"y":0.019,"l":0.0154,"h":0.0226},
{"p":"ST","s":"Push","x":1.2,"y":0.0175,"l":0.014,"h":0.021},
{"p":"ST","s":"Push","x":1.5,"y":0.0155,"l":0.0123,"h":0.0187},
{"p":"ST","s":"Reach","x":0,"y":0,"l":0,"h":0},
{"p":"ST","s":"Reach","x":0.05,"y":0.013,"l":0.011,"h":0.015},
{"p":"ST","s":"Reach","x":0.1,"y":0.02,"l":0.017,"h":0.023},
{"p":"ST","s":"Reach","x":0.15,"y":0.021,"l":0.018,"h":0.024},
{"p":"ST","s":"Reach","x":0.2,"y":0.022,"l":0.019,"h":0.025},
{"p":"ST","s":"Reach","x":0.25,"y":0.023,"l":0.02,"h":0.026},
{"p":"ST","s":"Reach","x":0.3,"y":0.023,"l":0.02,"h":0.026},
{"p":"ST","s":"Reach","x":0.35,"y":0.022,"l":0.019,"h":0.025},
{"p":"ST","s":"Reach","x":0.4,"y":0.021,"l":0.018,"h":0.024},
{"p":"ST","s":"Reach","x":0.5,"y":0.019,"l":0.016,"h":0.022},
{"p":"ST","s":"Reach","x":0.6,"y":0.017,"l":0.0143,"h":0.0197},
{"p":"ST","s":"Reach","x":0.7,"y":0.0157,"l":0.0132,"h":0.0182},
{"p":"ST","s":"Reach","x":0.8,"y":0.0145,"l":0.0122,"h":0.0168},
{"p":"ST","s":"Reach","x":1.0,"y":0.0125,"l":0.0104,"h":0.0146},
{"p":"ST","s":"Reach","x":1.2,"y":0.011,"l":0.0091,"h":0.0129},
{"p":"ST","s":"Reach","x":1.5,"y":0.0095,"l":0.0078,"h":0.0112},
{"p":"ST","s":"PickPlace","x":0,"y":0,"l":0,"h":0},
{"p":"ST","s":"PickPlace","x":0.05,"y":0.02,"l":0.017,"h":0.023},
{"p":"ST","s":"PickPlace","x":0.1,"y":0.032,"l":0.028,"h":0.036},
{"p":"ST","s":"PickPlace","x":0.15,"y":0.035,"l":0.03,"h":0.04},
{"p":"ST","s":"PickPlace","x":0.2,"y":0.036,"l":0.03,"h":0.042},
{"p":"ST","s":"PickPlace","x":0.25,"y":0.04,"l":0.033,"h":0.047},
{"p":"ST","s":"PickPlace","x":0.3,"y":0.042,"l":0.035,"h":0.049},
{"p":"ST","s":"PickPlace","x":0.35,"y":0.045,"l":0.038,"h":0.052},
{"p":"ST","s":"PickPlace","x":0.4,"y":0.048,"l":0.041,"h":0.055},
{"p":"ST","s":"PickPlace","x":0.45,"y":0.053,"l":0.046,"h":0.06},
{"p":"ST","s":"PickPlace","x":0.5,"y":0.054,"l":0.047,"h":0.061},
{"p":"ST","s":"PickPlace","x":0.55,"y":0.056,"l":0.049,"h":0.063},
{"p":"ST","s":"PickPlace","x":0.6,"y":0.059,"l":0.052,"h":0.066},
{"p":"ST","s":"PickPlace","x":0.7,"y":0.066,"l":0.059,"h":0.073},
{"p":"ST","s":"PickPlace","x":0.8,"y":0.07,"l":0.063,"h":0.077},
{"p":"ST","s":"PickPlace","x":0.9,"y":0.072,"l":0.065,"h":0.079},
{"p":"ST","s":"PickPlace","x":1.0,"y":0.073,"l":0.066,"h":0.08},
{"p":"ST","s":"PickPlace","x":1.1,"y":0.073,"l":0.066,"h":0.08},
{"p":"ST","s":"PickPlace","x":1.2,"y":0.0735,"l":0.066,"h":0.081},
{"p":"ST","s":"PickPlace","x":1.25,"y":0.074,"l":0.066,"h":0.082},
{"p":"ST","s":"PickPlace","x":1.3,"y":0.077,"l":0.069,"h":0.086},
{"p":"ST","s":"PickPlace","x":1.4,"y":0.085,"l":0.076,"h":0.095},
{"p":"ST","s":"PickPlace","x":1.5,"y":0.089,"l":0.079,"h":0.1},

{"p":"SW","s":"Push","x":0,"y":0.0035,"l":0.0025,"h":0.0045},
{"p":"SW","s":"Push","x":0.02,"y":0.009,"l":0.0078,"h":0.0102},
{"p":"SW","s":"Push","x":0.05,"y":0.0088,"l":0.0076,"h":0.01},
{"p":"SW","s":"Push","x":0.08,"y":0.0085,"l":0.0074,"h":0.0096},
{"p":"SW","s":"Push","x":0.1,"y":0.0083,"l":0.0072,"h":0.0094},
{"p":"SW","s":"Push","x":0.12,"y":0.008,"l":0.007,"h":0.009},
{"p":"SW","s":"Push","x":0.15,"y":0.007,"l":0.006,"h":0.008},
{"p":"SW","s":"Push","x":0.2,"y":0.0058,"l":0.0049,"h":0.0067},
{"p":"SW","s":"Push","x":0.3,"y":0.0045,"l":0.0037,"h":0.0053},
{"p":"SW","s":"Push","x":0.4,"y":0.0038,"l":0.0031,"h":0.0045},
{"p":"SW","s":"Push","x":0.5,"y":0.0033,"l":0.0027,"h":0.0039},
{"p":"SW","s":"Push","x":0.6,"y":0.003,"l":0.0025,"h":0.0035},
{"p":"SW","s":"Push","x":0.8,"y":0.0026,"l":0.0022,"h":0.003},
{"p":"SW","s":"Push","x":1.0,"y":0.0024,"l":0.002,"h":0.0028},
{"p":"SW","s":"Push","x":1.2,"y":0.0023,"l":0.0019,"h":0.0027},
{"p":"SW","s":"Push","x":1.5,"y":0.0022,"l":0.0018,"h":0.0026},
{"p":"SW","s":"Reach","x":0,"y":0.0035,"l":0.0027,"h":0.0043},
{"p":"SW","s":"Reach","x":0.02,"y":0.0093,"l":0.0083,"h":0.0103},
{"p":"SW","s":"Reach","x":0.05,"y":0.0085,"l":0.0076,"h":0.0094},
{"p":"SW","s":"Reach","x":0.08,"y":0.0082,"l":0.0073,"h":0.0091},
{"p":"SW","s":"Reach","x":0.1,"y":0.008,"l":0.0071,"h":0.0089},
{"p":"SW","s":"Reach","x":0.12,"y":0.0083,"l":0.0074,"h":0.0092},
{"p":"SW","s":"Reach","x":0.15,"y":0.0065,"l":0.0057,"h":0.0073},
{"p":"SW","s":"Reach","x":0.2,"y":0.0052,"l":0.0045,"h":0.0059},
{"p":"SW","s":"Reach","x":0.3,"y":0.004,"l":0.0034,"h":0.0046},
{"p":"SW","s":"Reach","x":0.4,"y":0.003,"l":0.0025,"h":0.0035},
{"p":"SW","s":"Reach","x":0.5,"y":0.0025,"l":0.0021,"h":0.0029},
{"p":"SW","s":"Reach","x":0.6,"y":0.0022,"l":0.0018,"h":0.0026},
{"p":"SW","s":"Reach","x":0.8,"y":0.0017,"l":0.0014,"h":0.002},
{"p":"SW","s":"Reach","x":1.0,"y":0.0016,"l":0.0013,"h":0.0019},
{"p":"SW","s":"Reach","x":1.2,"y":0.0015,"l":0.0012,"h":0.0018},
{"p":"SW","s":"Reach","x":1.5,"y":0.0014,"l":0.0011,"h":0.0017},
{"p":"SW","s":"PickPlace","x":0,"y":0.0035,"l":0.002,"h":0.005},
{"p":"SW","s":"PickPlace","x":0.02,"y":0.01,"l":0.008,"h":0.012},
{"p":"SW","s":"PickPlace","x":0.05,"y":0.013,"l":0.0105,"h":0.0155},
{"p":"SW","s":"PickPlace","x":0.08,"y":0.015,"l":0.012,"h":0.018},
{"p":"SW","s":"PickPlace","x":0.1,"y":0.0175,"l":0.0135,"h":0.0215},
{"p":"SW","s":"PickPlace","x":0.12,"y":0.019,"l":0.0145,"h":0.0235},
{"p":"SW","s":"PickPlace","x":0.15,"y":0.019,"l":0.0145,"h":0.0245},
{"p":"SW","s":"PickPlace","x":0.2,"y":0.019,"l":0.0145,"h":0.025},
{"p":"SW","s":"PickPlace","x":0.22,"y":0.0192,"l":0.0145,"h":0.0248},
{"p":"SW","s":"PickPlace","x":0.3,"y":0.018,"l":0.0135,"h":0.0235},
{"p":"SW","s":"PickPlace","x":0.4,"y":0.0165,"l":0.0125,"h":0.021},
{"p":"SW","s":"PickPlace","x":0.5,"y":0.015,"l":0.0115,"h":0.019},
{"p":"SW","s":"PickPlace","x":0.6,"y":0.0138,"l":0.0105,"h":0.0172},
{"p":"SW","s":"PickPlace","x":0.7,"y":0.0125,"l":0.0098,"h":0.0155},
{"p":"SW","s":"PickPlace","x":0.8,"y":0.0118,"l":0.0092,"h":0.0145},
{"p":"SW","s":"PickPlace","x":0.9,"y":0.0112,"l":0.0088,"h":0.0137},
{"p":"SW","s":"PickPlace","x":1.0,"y":0.0106,"l":0.0084,"h":0.013},
{"p":"SW","s":"PickPlace","x":1.2,"y":0.0097,"l":0.0076,"h":0.0119},
{"p":"SW","s":"PickPlace","x":1.5,"y":0.0086,"l":0.0066,"h":0.0107},

{"p":"CP","s":"Push","x":0,"y":0,"l":0,"h":0},
{"p":"CP","s":"Push","x":0.1,"y":0.012,"l":0.009,"h":0.015},
{"p":"CP","s":"Push","x":0.2,"y":0.022,"l":0.017,"h":0.027},
{"p":"CP","s":"Push","x":0.3,"y":0.032,"l":0.025,"h":0.039},
{"p":"CP","s":"Push","x":0.4,"y":0.042,"l":0.033,"h":0.051},
{"p":"CP","s":"Push","x":0.5,"y":0.047,"l":0.037,"h":0.058},
{"p":"CP","s":"Push","x":0.6,"y":0.05,"l":0.039,"h":0.063},
{"p":"CP","s":"Push","x":0.7,"y":0.056,"l":0.043,"h":0.072},
{"p":"CP","s":"Push","x":0.8,"y":0.063,"l":0.048,"h":0.082},
{"p":"CP","s":"Push","x":0.9,"y":0.07,"l":0.053,"h":0.094},
{"p":"CP","s":"Push","x":1.0,"y":0.072,"l":0.054,"h":0.098},
{"p":"CP","s":"Push","x":1.1,"y":0.073,"l":0.055,"h":0.1},
{"p":"CP","s":"Push","x":1.2,"y":0.074,"l":0.055,"h":0.101},
{"p":"CP","s":"Push","x":1.3,"y":0.075,"l":0.056,"h":0.102},
{"p":"CP","s":"Push","x":1.4,"y":0.0755,"l":0.056,"h":0.102},
{"p":"CP","s":"Push","x":1.5,"y":0.076,"l":0.056,"h":0.102},
{"p":"CP","s":"Reach","x":0,"y":0,"l":0,"h":0},
{"p":"CP","s":"Reach","x":0.1,"y":0.009,"l":0.006,"h":0.012},
{"p":"CP","s":"Reach","x":0.2,"y":0.011,"l":0.007,"h":0.015},
{"p":"CP","s":"Reach","x":0.3,"y":0.0115,"l":0.007,"h":0.016},
{"p":"CP","s":"Reach","x":0.4,"y":0.012,"l":0.007,"h":0.017},
{"p":"CP","s":"Reach","x":0.5,"y":0.0122,"l":0.007,"h":0.0175},
{"p":"CP","s":"Reach","x":0.6,"y":0.0125,"l":0.007,"h":0.018},
{"p":"CP","s":"Reach","x":0.7,"y":0.013,"l":0.0075,"h":0.0185},
{"p":"CP","s":"Reach","x":0.8,"y":0.014,"l":0.008,"h":0.02},
{"p":"CP","s":"Reach","x":0.9,"y":0.017,"l":0.011,"h":0.023},
{"p":"CP","s":"Reach","x":1.0,"y":0.018,"l":0.012,"h":0.024},
{"p":"CP","s":"Reach","x":1.2,"y":0.019,"l":0.013,"h":0.026},
{"p":"CP","s":"Reach","x":1.5,"y":0.021,"l":0.014,"h":0.028},
{"p":"CP","s":"PickPlace","x":0,"y":0,"l":0,"h":0},
{"p":"CP","s":"PickPlace","x":0.1,"y":0.012,"l":0.009,"h":0.016},
{"p":"CP","s":"PickPlace","x":0.2,"y":0.022,"l":0.016,"h":0.03},
{"p":"CP","s":"PickPlace","x":0.3,"y":0.04,"l":0.028,"h":0.055},
{"p":"CP","s":"PickPlace","x":0.4,"y":0.07,"l":0.05,"h":0.092},
{"p":"CP","s":"PickPlace","x":0.5,"y":0.1,"l":0.075,"h":0.125},
{"p":"CP","s":"PickPlace","x":0.6,"y":0.128,"l":0.1,"h":0.152},
{"p":"CP","s":"PickPlace","x":0.7,"y":0.15,"l":0.122,"h":0.172},
{"p":"CP","s":"PickPlace","x":0.8,"y":0.168,"l":0.142,"h":0.188},
{"p":"CP","s":"PickPlace","x":0.9,"y":0.178,"l":0.155,"h":0.197},
{"p":"CP","s":"PickPlace","x":1.0,"y":0.183,"l":0.162,"h":0.203},
{"p":"CP","s":"PickPlace","x":1.1,"y":0.19,"l":0.168,"h":0.21},
{"p":"CP","s":"PickPlace","x":1.2,"y":0.195,"l":0.172,"h":0.217},
{"p":"CP","s":"PickPlace","x":1.3,"y":0.198,"l":0.175,"h":0.222},
{"p":"CP","s":"PickPlace","x":1.4,"y":0.2,"l":0.177,"h":0.226},
{"p":"CP","s":"PickPlace","x":1.5,"y":0.202,"l":0.178,"h":0.228},

{"p":"BC","s":"Push","x":0,"y":0,"l":0,"h":0},
{"p":"BC","s":"Push","x":0.05,"y":0.0012,"l":0.0009,"h":0.0015},
{"p":"BC","s":"Push","x":0.1,"y":0.0018,"l":0.0015,"h":0.0021},
{"p":"BC","s":"Push","x":0.15,"y":0.0019,"l":0.0016,"h":0.0022},
{"p":"BC","s":"Push","x":0.2,"y":0.002,"l":0.0017,"h":0.0023},
{"p":"BC","s":"Push","x":0.25,"y":0.002,"l":0.0017,"h":0.0023},
{"p":"BC","s":"Push","x":0.3,"y":0.0021,"l":0.0017,"h":0.0025},
{"p":"BC","s":"Push","x":0.35,"y":0.0023,"l":0.0018,"h":0.0028},
{"p":"BC","s":"Push","x":0.4,"y":0.0027,"l":0.0021,"h":0.0033},
{"p":"BC","s":"Push","x":0.45,"y":0.0033,"l":0.0026,"h":0.004},
{"p":"BC","s":"Push","x":0.5,"y":0.0039,"l":0.0032,"h":0.0046},
{"p":"BC","s":"Push","x":0.55,"y":0.0042,"l":0.0035,"h":0.0049},
{"p":"BC","s":"Push","x":0.6,"y":0.0042,"l":0.0035,"h":0.0049},
{"p":"BC","s":"Push","x":0.65,"y":0.0042,"l":0.0035,"h":0.0049},
{"p":"BC","s":"Push","x":0.7,"y":0.0044,"l":0.0037,"h":0.0051},
{"p":"BC","s":"Push","x":0.8,"y":0.0043,"l":0.0036,"h":0.005},
{"p":"BC","s":"Push","x":0.9,"y":0.0041,"l":0.0035,"h":0.0047},
{"p":"BC","s":"Push","x":1.0,"y":0.004,"l":0.0035,"h":0.0045},
{"p":"BC","s":"Push","x":1.1,"y":0.0039,"l":0.0034,"h":0.0044},
{"p":"BC","s":"Push","x":1.2,"y":0.0039,"l":0.0034,"h":0.0044},
{"p":"BC","s":"Push","x":1.3,"y":0.004,"l":0.0035,"h":0.0045},
{"p":"BC","s":"Push","x":1.4,"y":0.0041,"l":0.0036,"h":0.0046},
{"p":"BC","s":"Push","x":1.5,"y":0.004,"l":0.0035,"h":0.0045},
{"p":"BC","s":"Reach","x":0,"y":0,"l":0,"h":0},
{"p":"BC","s":"Reach","x":0.05,"y":0.0011,"l":0.0009,"h":0.0013},
{"p":"BC","s":"Reach","x":0.1,"y":0.0012,"l":0.001,"h":0.0014},
{"p":"BC","s":"Reach","x":0.15,"y":0.0014,"l":0.0012,"h":0.0016},
{"p":"BC","s":"Reach","x":0.2,"y":0.0013,"l":0.0011,"h":0.0015},
{"p":"BC","s":"Reach","x":0.25,"y":0.0013,"l":0.0011,"h":0.0015},
{"p":"BC","s":"Reach","x":0.3,"y":0.0012,"l":0.001,"h":0.0014},
{"p":"BC","s":"Reach","x":0.35,"y":0.0011,"l":0.0009,"h":0.0013},
{"p":"BC","s":"Reach","x":0.4,"y":0.0013,"l":0.0011,"h":0.0015},
{"p":"BC","s":"Reach","x":0.45,"y":0.0016,"l":0.0014,"h":0.0018},
{"p":"BC","s":"Reach","x":0.5,"y":0.0018,"l":0.0016,"h":0.002},
{"p":"BC","s":"Reach","x":0.6,"y":0.0019,"l":0.0017,"h":0.0021},
{"p":"BC","s":"Reach","x":0.7,"y":0.0019,"l":0.0017,"h":0.0021},
{"p":"BC","s":"Reach","x":0.8,"y":0.0017,"l":0.0015,"h":0.0019},
{"p":"BC","s":"Reach","x":0.9,"y":0.0017,"l":0.0015,"h":0.0019},
{"p":"BC","s":"Reach","x":1.0,"y":0.0016,"l":0.0014,"h":0.0018},
{"p":"BC","s":"Reach","x":1.1,"y":0.0015,"l":0.0013,"h":0.0017},
{"p":"BC","s":"Reach","x":1.2,"y":0.0014,"l":0.0012,"h":0.0016},
{"p":"BC","s":"Reach","x":1.5,"y":0.0014,"l":0.0012,"h":0.0016},
{"p":"BC","s":"PickPlace","x":0,"y":0,"l":0,"h":0},
{"p":"BC","s":"PickPlace","x":0.05,"y":0.0013,"l":0.001,"h":0.0016},
{"p":"BC","s":"PickPlace","x":0.1,"y":0.0014,"l":0.0011,"h":0.0017},
{"p":"BC","s":"PickPlace","x":0.12,"y":0.0021,"l":0.0017,"h":0.0025},
{"p":"BC","s":"PickPlace","x":0.15,"y":0.0022,"l":0.0018,"h":0.0026},
{"p":"BC","s":"PickPlace","x":0.2,"y":0.0022,"l":0.0018,"h":0.0027},
{"p":"BC","s":"PickPlace","x":0.25,"y":0.0024,"l":0.0019,"h":0.003},
{"p":"BC","s":"PickPlace","x":0.3,"y":0.0025,"l":0.0019,"h":0.0032},
{"p":"BC","s":"PickPlace","x":0.35,"y":0.003,"l":0.0022,"h":0.0039},
{"p":"BC","s":"PickPlace","x":0.4,"y":0.0038,"l":0.0028,"h":0.0049},
{"p":"BC","s":"PickPlace","x":0.45,"y":0.0048,"l":0.0037,"h":0.006},
{"p":"BC","s":"PickPlace","x":0.5,"y":0.0058,"l":0.0046,"h":0.007},
{"p":"BC","s":"PickPlace","x":0.55,"y":0.0062,"l":0.005,"h":0.0075},
{"p":"BC","s":"PickPlace","x":0.6,"y":0.0065,"l":0.0053,"h":0.0078},
{"p":"BC","s":"PickPlace","x":0.65,"y":0.0075,"l":0.0063,"h":0.0088},
{"p":"BC","s":"PickPlace","x":0.7,"y":0.0082,"l":0.007,"h":0.0095},
{"p":"BC","s":"PickPlace","x":0.75,"y":0.0085,"l":0.0073,"h":0.0098},
{"p":"BC","s":"PickPlace","x":0.8,"y":0.0088,"l":0.0076,"h":0.01},
{"p":"BC","s":"PickPlace","x":0.9,"y":0.009,"l":0.0078,"h":0.0102},
{"p":"BC","s":"PickPlace","x":1.0,"y":0.009,"l":0.0078,"h":0.0102},
{"p":"BC","s":"PickPlace","x":1.1,"y":0.0089,"l":0.0077,"h":0.0101},
{"p":"BC","s":"PickPlace","x":1.2,"y":0.0088,"l":0.0076,"h":0.01},
{"p":"BC","s":"PickPlace","x":1.3,"y":0.0087,"l":0.0076,"h":0.0099},
{"p":"BC","s":"PickPlace","x":1.4,"y":0.0087,"l":0.0077,"h":0.0097},
{"p":"BC","s":"PickPlace","x":1.5,"y":0.0088,"l":0.0079,"h":0.0096}
]},
"concat":[
{"title":"MetaWorld-PushBack","width":100,"height":96,"transform":[{"filter":"datum.p=='PB'"}],
 "encoding":{"x":{"field":"x","type":"quantitative","scale":{"domain":[0,1.5],"nice":false,"zero":false},"axis":{"values":[0,0.5,1,1.5],"format":".1f","title":"Steps (×10⁶)"}}},
 "layer":[
  {"mark":{"type":"area","opacity":0.15,"clip":true},"encoding":{"y":{"field":"l","type":"quantitative","scale":{"domain":[-0.0018,0.0418],"nice":false,"zero":false},"axis":{"values":[0,0.01,0.02,0.03,0.04],"format":".2f","title":"Utilization Ratios"}},"y2":{"field":"h"},"fill":{"field":"s","type":"nominal","scale":{"domain":["PickPlace","Push","Reach"],"range":["#ff7f0e","#1f77b4","#d62728"]},"legend":null}}},
  {"mark":{"type":"line","strokeWidth":1.3,"clip":true},"encoding":{"y":{"field":"y","type":"quantitative","scale":{"domain":[-0.0018,0.0418],"nice":false,"zero":false},"axis":{"values":[0,0.01,0.02,0.03,0.04],"format":".2f","title":"Utilization Ratios"}},"color":{"field":"s","type":"nominal","scale":{"domain":["Push","Reach","PickPlace"],"range":["#1f77b4","#d62728","#ff7f0e"]},"legend":null}}}
 ]},
{"title":"MetaWorld-Hammer","width":100,"height":96,"transform":[{"filter":"datum.p=='HM'"}],
 "encoding":{"x":{"field":"x","type":"quantitative","scale":{"domain":[0,1.5],"nice":false,"zero":false},"axis":{"values":[0,0.5,1,1.5],"format":".1f","title":"Steps (×10⁶)"}}},
 "layer":[
  {"mark":{"type":"area","opacity":0.15,"clip":true},"encoding":{"y":{"field":"l","type":"quantitative","scale":{"domain":[-0.0002,0.0035],"nice":false,"zero":false},"axis":{"values":[0,0.001,0.002,0.003],"format":".3f","title":null}},"y2":{"field":"h"},"fill":{"field":"s","type":"nominal","scale":{"domain":["PickPlace","Push","Reach"],"range":["#ff7f0e","#1f77b4","#d62728"]},"legend":null}}},
  {"mark":{"type":"line","strokeWidth":1.3,"clip":true},"encoding":{"y":{"field":"y","type":"quantitative","scale":{"domain":[-0.0002,0.0035],"nice":false,"zero":false},"axis":{"values":[0,0.001,0.002,0.003],"format":".3f","title":null}},"color":{"field":"s","type":"nominal","scale":{"domain":["Push","Reach","PickPlace"],"range":["#1f77b4","#d62728","#ff7f0e"]},"legend":null}}}
 ]},
{"title":"MetaWorld-ShelfPlace","width":100,"height":96,"transform":[{"filter":"datum.p=='SP'"}],
 "encoding":{"x":{"field":"x","type":"quantitative","scale":{"domain":[0,1.5],"nice":false,"zero":false},"axis":{"values":[0,0.5,1,1.5],"format":".1f","title":"Steps (×10⁶)"}}},
 "layer":[
  {"mark":{"type":"area","opacity":0.15,"clip":true},"encoding":{"y":{"field":"l","type":"quantitative","scale":{"domain":[-0.007,0.133],"nice":false,"zero":false},"axis":{"values":[0,0.02,0.04,0.06,0.08,0.1,0.12],"format":".2f","title":null}},"y2":{"field":"h"},"fill":{"field":"s","type":"nominal","scale":{"domain":["PickPlace","Push","Reach"],"range":["#ff7f0e","#1f77b4","#d62728"]},"legend":null}}},
  {"mark":{"type":"line","strokeWidth":1.3,"clip":true},"encoding":{"y":{"field":"y","type":"quantitative","scale":{"domain":[-0.007,0.133],"nice":false,"zero":false},"axis":{"values":[0,0.02,0.04,0.06,0.08,0.1,0.12],"format":".2f","title":null}},"color":{"field":"s","type":"nominal","scale":{"domain":["Push","Reach","PickPlace"],"range":["#1f77b4","#d62728","#ff7f0e"]},"legend":null}}}
 ]},
{"title":"MetaWorld-PickPlaceWall","width":100,"height":96,"transform":[{"filter":"datum.p=='PW'"}],
 "encoding":{"x":{"field":"x","type":"quantitative","scale":{"domain":[0,1.5],"nice":false,"zero":false},"axis":{"values":[0,0.5,1,1.5],"format":".1f","title":"Steps (×10⁶)"}}},
 "layer":[
  {"mark":{"type":"area","opacity":0.15,"clip":true},"encoding":{"y":{"field":"l","type":"quantitative","scale":{"domain":[-0.014,0.268],"nice":false,"zero":false},"axis":{"values":[0,0.05,0.1,0.15,0.2,0.25],"format":".2f","title":null}},"y2":{"field":"h"},"fill":{"field":"s","type":"nominal","scale":{"domain":["PickPlace","Push","Reach"],"range":["#ff7f0e","#1f77b4","#d62728"]},"legend":null}}},
  {"mark":{"type":"line","strokeWidth":1.3,"clip":true},"encoding":{"y":{"field":"y","type":"quantitative","scale":{"domain":[-0.014,0.268],"nice":false,"zero":false},"axis":{"values":[0,0.05,0.1,0.15,0.2,0.25],"format":".2f","title":null}},"color":{"field":"s","type":"nominal","scale":{"domain":["Push","Reach","PickPlace"],"range":["#1f77b4","#d62728","#ff7f0e"]},"legend":null}}}
 ]},
{"title":"MetaWorld-PegInsertSide","width":100,"height":96,"transform":[{"filter":"datum.p=='PI'"}],
 "encoding":{"x":{"field":"x","type":"quantitative","scale":{"domain":[0,1.5],"nice":false,"zero":false},"axis":{"values":[0,0.5,1,1.5],"format":".1f","title":"Steps (×10⁶)"}}},
 "layer":[
  {"mark":{"type":"area","opacity":0.15,"clip":true},"encoding":{"y":{"field":"l","type":"quantitative","scale":{"domain":[-0.002,0.0486],"nice":false,"zero":false},"axis":{"values":[0,0.01,0.02,0.03,0.04],"format":".2f","title":null}},"y2":{"field":"h"},"fill":{"field":"s","type":"nominal","scale":{"domain":["PickPlace","Push","Reach"],"range":["#ff7f0e","#1f77b4","#d62728"]},"legend":null}}},
  {"mark":{"type":"line","strokeWidth":1.3,"clip":true},"encoding":{"y":{"field":"y","type":"quantitative","scale":{"domain":[-0.002,0.0486],"nice":false,"zero":false},"axis":{"values":[0,0.01,0.02,0.03,0.04],"format":".2f","title":null}},"color":{"field":"s","type":"nominal","scale":{"domain":["Push","Reach","PickPlace"],"range":["#1f77b4","#d62728","#ff7f0e"]},"legend":null}}}
 ]},
{"title":"MetaWorld-PushWall","width":100,"height":96,"transform":[{"filter":"datum.p=='PL'"}],
 "encoding":{"x":{"field":"x","type":"quantitative","scale":{"domain":[0,1.5],"nice":false,"zero":false},"axis":{"values":[0,0.5,1,1.5],"format":".1f","title":"Steps (×10⁶)"}}},
 "layer":[
  {"mark":{"type":"area","opacity":0.15,"clip":true},"encoding":{"y":{"field":"l","type":"quantitative","scale":{"domain":[-0.007,0.135],"nice":false,"zero":false},"axis":{"values":[0,0.025,0.05,0.075,0.1,0.125],"format":".3f","title":null}},"y2":{"field":"h"},"fill":{"field":"s","type":"nominal","scale":{"domain":["PickPlace","Push","Reach"],"range":["#ff7f0e","#1f77b4","#d62728"]},"legend":null}}},
  {"mark":{"type":"line","strokeWidth":1.3,"clip":true},"encoding":{"y":{"field":"y","type":"quantitative","scale":{"domain":[-0.007,0.135],"nice":false,"zero":false},"axis":{"values":[0,0.025,0.05,0.075,0.1,0.125],"format":".3f","title":null}},"color":{"field":"s","type":"nominal","scale":{"domain":["Push","Reach","PickPlace"],"range":["#1f77b4","#d62728","#ff7f0e"]},"legend":null}}}
 ]},
{"title":"MetaWorld-Assembly","width":100,"height":96,"transform":[{"filter":"datum.p=='AS'"}],
 "encoding":{"x":{"field":"x","type":"quantitative","scale":{"domain":[0,1.5],"nice":false,"zero":false},"axis":{"values":[0,0.5,1,1.5],"format":".1f","title":"Steps (×10⁶)"}}},
 "layer":[
  {"mark":{"type":"area","opacity":0.15,"clip":true},"encoding":{"y":{"field":"l","type":"quantitative","scale":{"domain":[0.0001,0.0084],"nice":false,"zero":false},"axis":{"values":[0.002,0.004,0.006,0.008],"format":".3f","title":"Utilization Ratios"}},"y2":{"field":"h"},"fill":{"field":"s","type":"nominal","scale":{"domain":["PickPlace","Push","Reach"],"range":["#ff7f0e","#1f77b4","#d62728"]},"legend":null}}},
  {"mark":{"type":"line","strokeWidth":1.3,"clip":true},"encoding":{"y":{"field":"y","type":"quantitative","scale":{"domain":[0.0001,0.0084],"nice":false,"zero":false},"axis":{"values":[0.002,0.004,0.006,0.008],"format":".3f","title":"Utilization Ratios"}},"color":{"field":"s","type":"nominal","scale":{"domain":["Push","Reach","PickPlace"],"range":["#1f77b4","#d62728","#ff7f0e"]},"legend":null}}}
 ]},
{"title":"MetaWorld-BinPicking","width":100,"height":96,"transform":[{"filter":"datum.p=='BP'"}],
 "encoding":{"x":{"field":"x","type":"quantitative","scale":{"domain":[0,1.5],"nice":false,"zero":false},"axis":{"values":[0,0.5,1,1.5],"format":".1f","title":"Steps (×10⁶)"}}},
 "layer":[
  {"mark":{"type":"area","opacity":0.15,"clip":true},"encoding":{"y":{"field":"l","type":"quantitative","scale":{"domain":[-0.0036,0.0753],"nice":false,"zero":false},"axis":{"values":[0,0.02,0.04,0.06],"format":".2f","title":null}},"y2":{"field":"h"},"fill":{"field":"s","type":"nominal","scale":{"domain":["PickPlace","Push","Reach"],"range":["#ff7f0e","#1f77b4","#d62728"]},"legend":null}}},
  {"mark":{"type":"line","strokeWidth":1.3,"clip":true},"encoding":{"y":{"field":"y","type":"quantitative","scale":{"domain":[-0.0036,0.0753],"nice":false,"zero":false},"axis":{"values":[0,0.02,0.04,0.06],"format":".2f","title":null}},"color":{"field":"s","type":"nominal","scale":{"domain":["Push","Reach","PickPlace"],"range":["#1f77b4","#d62728","#ff7f0e"]},"legend":null}}}
 ]},
{"title":"MetaWorld-StickPull","width":100,"height":96,"transform":[{"filter":"datum.p=='ST'"}],
 "encoding":{"x":{"field":"x","type":"quantitative","scale":{"domain":[0,1.5],"nice":false,"zero":false},"axis":{"values":[0,0.5,1,1.5],"format":".1f","title":"Steps (×10⁶)"}}},
 "layer":[
  {"mark":{"type":"area","opacity":0.15,"clip":true},"encoding":{"y":{"field":"l","type":"quantitative","scale":{"domain":[-0.0054,0.1134],"nice":false,"zero":false},"axis":{"values":[0,0.02,0.04,0.06,0.08,0.1],"format":".2f","title":null}},"y2":{"field":"h"},"fill":{"field":"s","type":"nominal","scale":{"domain":["PickPlace","Push","Reach"],"range":["#ff7f0e","#1f77b4","#d62728"]},"legend":null}}},
  {"mark":{"type":"line","strokeWidth":1.3,"clip":true},"encoding":{"y":{"field":"y","type":"quantitative","scale":{"domain":[-0.0054,0.1134],"nice":false,"zero":false},"axis":{"values":[0,0.02,0.04,0.06,0.08,0.1],"format":".2f","title":null}},"color":{"field":"s","type":"nominal","scale":{"domain":["Push","Reach","PickPlace"],"range":["#1f77b4","#d62728","#ff7f0e"]},"legend":null}}}
 ]},
{"title":"MetaWorld-Sweep","width":100,"height":96,"transform":[{"filter":"datum.p=='SW'"}],
 "encoding":{"x":{"field":"x","type":"quantitative","scale":{"domain":[0,1.5],"nice":false,"zero":false},"axis":{"values":[0,0.5,1,1.5],"format":".1f","title":"Steps (×10⁶)"}}},
 "layer":[
  {"mark":{"type":"area","opacity":0.15,"clip":true},"encoding":{"y":{"field":"l","type":"quantitative","scale":{"domain":[-0.0003,0.0264],"nice":false,"zero":false},"axis":{"values":[0,0.005,0.01,0.015,0.02,0.025],"format":".3f","title":null}},"y2":{"field":"h"},"fill":{"field":"s","type":"nominal","scale":{"domain":["PickPlace","Push","Reach"],"range":["#ff7f0e","#1f77b4","#d62728"]},"legend":null}}},
  {"mark":{"type":"line","strokeWidth":1.3,"clip":true},"encoding":{"y":{"field":"y","type":"quantitative","scale":{"domain":[-0.0003,0.0264],"nice":false,"zero":false},"axis":{"values":[0,0.005,0.01,0.015,0.02,0.025],"format":".3f","title":null}},"color":{"field":"s","type":"nominal","scale":{"domain":["Push","Reach","PickPlace"],"range":["#1f77b4","#d62728","#ff7f0e"]},"legend":null}}}
 ]},
{"title":"MetaWorld-CoffeePull","width":100,"height":96,"transform":[{"filter":"datum.p=='CP'"}],
 "encoding":{"x":{"field":"x","type":"quantitative","scale":{"domain":[0,1.5],"nice":false,"zero":false},"axis":{"values":[0,0.5,1,1.5],"format":".1f","title":"Steps (×10⁶)"}}},
 "layer":[
  {"mark":{"type":"area","opacity":0.15,"clip":true},"encoding":{"y":{"field":"l","type":"quantitative","scale":{"domain":[-0.0137,0.2456],"nice":false,"zero":false},"axis":{"values":[0,0.05,0.1,0.15,0.2],"format":".2f","title":null}},"y2":{"field":"h"},"fill":{"field":"s","type":"nominal","scale":{"domain":["PickPlace","Push","Reach"],"range":["#ff7f0e","#1f77b4","#d62728"]},"legend":null}}},
  {"mark":{"type":"line","strokeWidth":1.3,"clip":true},"encoding":{"y":{"field":"y","type":"quantitative","scale":{"domain":[-0.0137,0.2456],"nice":false,"zero":false},"axis":{"values":[0,0.05,0.1,0.15,0.2],"format":".2f","title":null}},"color":{"field":"s","type":"nominal","scale":{"domain":["Push","Reach","PickPlace"],"range":["#1f77b4","#d62728","#ff7f0e"]},"legend":null}}}
 ]},
{"title":"MetaWorld-BoxClose","width":100,"height":96,"transform":[{"filter":"datum.p=='BC'"}],
 "encoding":{"x":{"field":"x","type":"quantitative","scale":{"domain":[0,1.5],"nice":false,"zero":false},"axis":{"values":[0,0.5,1,1.5],"format":".1f","title":"Steps (×10⁶)"}}},
 "layer":[
  {"mark":{"type":"area","opacity":0.15,"clip":true},"encoding":{"y":{"field":"l","type":"quantitative","scale":{"domain":[-0.0006,0.0105],"nice":false,"zero":false},"axis":{"values":[0,0.002,0.004,0.006,0.008,0.01],"format":".3f","title":null}},"y2":{"field":"h"},"fill":{"field":"s","type":"nominal","scale":{"domain":["PickPlace","Push","Reach"],"range":["#ff7f0e","#1f77b4","#d62728"]},"legend":null}}},
  {"mark":{"type":"line","strokeWidth":1.3,"clip":true},"encoding":{"y":{"field":"y","type":"quantitative","scale":{"domain":[-0.0006,0.0105],"nice":false,"zero":false},"axis":{"values":[0,0.002,0.004,0.006,0.008,0.01],"format":".3f","title":null}},"color":{"field":"s","type":"nominal","scale":{"domain":["Push","Reach","PickPlace"],"range":["#1f77b4","#d62728","#ff7f0e"]},"legend":{"orient":"none","legendX":3,"legendY":1,"title":null,"labelExpr":"'Prior Policy (' + datum.label + ')'","symbolType":"stroke","symbolSize":150,"symbolStrokeWidth":1.5,"labelFontSize":6.5,"labelFont":"DejaVu Sans","labelColor":"#111","fillColor":"white","strokeColor":"#cccccc","padding":3,"rowPadding":-5,"cornerRadius":2,"labelOffset":4}}}}
 ]}
]
}
